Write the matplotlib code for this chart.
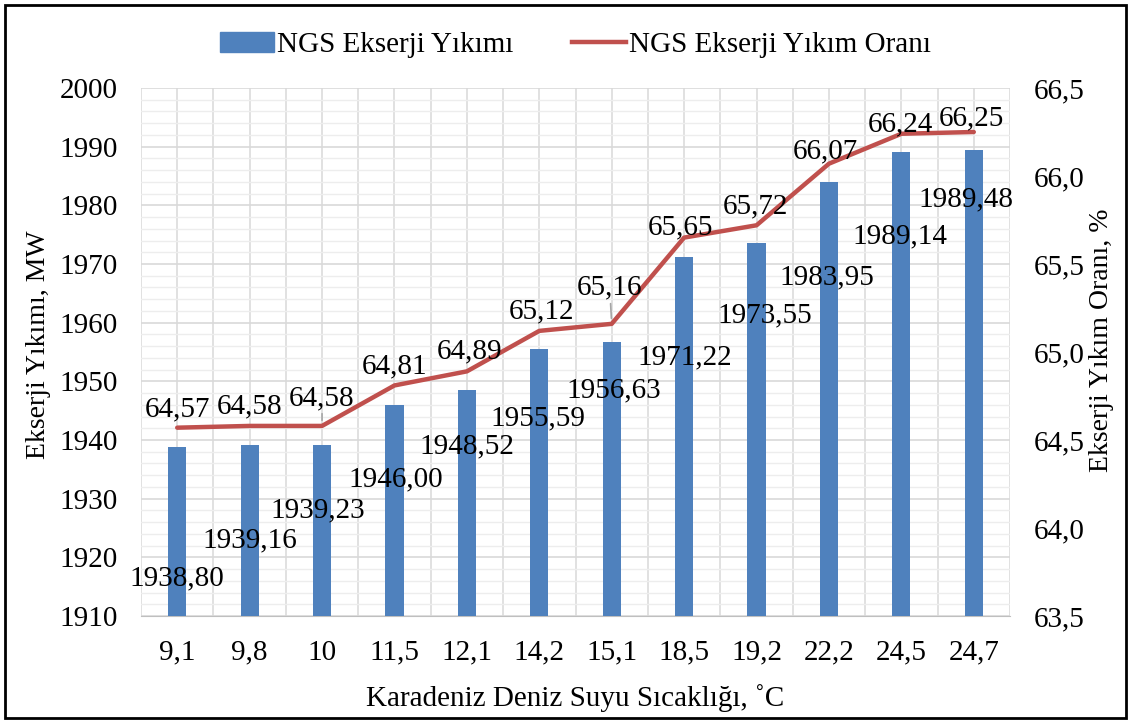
import matplotlib.pyplot as plt
from matplotlib.patches import Patch, Rectangle
from matplotlib.lines import Line2D
from matplotlib.ticker import MultipleLocator, FixedLocator

# Data
temps = ["9,1", "9,8", "10", "11,5", "12,1", "14,2", "15,1", "18,5", "19,2", "22,2", "24,5", "24,7"]
destruction_mw = [1938.80, 1939.16, 1939.23, 1946.00, 1948.52, 1955.59,
                  1956.63, 1971.22, 1973.55, 1983.95, 1989.14, 1989.48]
destruction_rate = [64.57, 64.58, 64.58, 64.81, 64.89, 65.12,
                    65.16, 65.65, 65.72, 66.07, 66.24, 66.25]

# label offsets in pixels (dx, dy) from bar top / line point, to text baseline
bar_label_offsets = [(0, -138), (0, -102), (-4, -73), (1, -82), (0, -63), (-1, -77),
                     (2, -55), (1, -108), (8, -79), (-2, -102), (-1, -92), (-8, -57)]
line_label_offsets = [(0, 11), (0, 13), (0, 21), (0, 12), (3, 13), (2, 13),
                      (-2, 29), (-4, 3), (-1, 12), (-4, 5), (-1, 2), (-2, 7)]
leader_idx = [2, 6]

BLUE = "#4F81BD"
RED = "#C0504D"
FONT = "Liberation Serif"

plt.rcParams["font.family"] = FONT

fig = plt.figure(figsize=(11.3, 7.22), dpi=100)
ax = fig.add_axes([141 / 1130, 106 / 722, 869 / 1130, 528 / 722])
ax2 = ax.twinx()

x = list(range(len(temps)))
ax.bar(x, destruction_mw, width=0.25, color=BLUE, zorder=3)
ax.set_ylim(1910, 2000)
ax.set_xlim(-0.5, len(temps) - 0.5)
ax.yaxis.set_major_locator(MultipleLocator(10))
ax.yaxis.set_minor_locator(MultipleLocator(2))
ax.set_xticks(x)
ax.set_xticklabels(temps)
ax.xaxis.set_minor_locator(FixedLocator([i + 0.5 for i in range(-1, len(temps))]))

ax.grid(which="major", axis="y", color="#D9D9D9", lw=1.2, zorder=0)
ax.grid(which="minor", axis="y", color="#EDEDED", lw=1.0, zorder=0)
ax.grid(which="both", axis="x", color="#DCDCDC", lw=1.2, zorder=0)
ax.set_axisbelow(True)

ax2.plot(x, destruction_rate, color=RED, lw=3.2, solid_capstyle="round", zorder=4)
ax2.set_ylim(63.5, 66.5)
ax2.yaxis.set_major_locator(MultipleLocator(0.5))
ax2.yaxis.set_major_formatter(plt.FuncFormatter(lambda v, p: f"{v:.1f}".replace(".", ",")))

for a in (ax, ax2):
    for s in ("top", "left", "right"):
        a.spines[s].set_visible(False)
    a.tick_params(which="both", length=0, labelsize=21)
ax.spines["bottom"].set_color("#BFBFBF")
ax2.spines["bottom"].set_visible(False)
ax.tick_params(axis="y", pad=17)
ax.tick_params(axis="x", pad=17)
ax2.tick_params(axis="y", pad=17)

# data labels
for i, v in enumerate(destruction_mw):
    dx, dy = bar_label_offsets[i]
    ax.annotate(f"{v:.2f}".replace(".", ","), (i, v), xytext=(dx, dy),
                textcoords="offset pixels", ha="center", va="baseline",
                fontsize=21, zorder=5)

for i, v in enumerate(destruction_rate):
    dx, dy = line_label_offsets[i]
    props = None
    if i in leader_idx:
        props = dict(arrowstyle="-", color="#A6A6A6", lw=1.2, shrinkA=0, shrinkB=4)
    ax2.annotate(f"{v:.2f}".replace(".", ","), (i, v), xytext=(dx, dy),
                 textcoords="offset pixels", ha="center", va="baseline",
                 fontsize=21, zorder=6, arrowprops=props)

# axis titles
fig.text(39 / 1130, 1 - 345 / 722, "Ekserji Yıkımı, MW", rotation=90,
         ha="center", va="center", fontsize=20)
fig.text(1101 / 1130, 1 - 340 / 722, "Ekserji Yıkım Oranı, %", rotation=90,
         ha="center", va="center", fontsize=20)
fig.text(0.5 * (141 + 1010) / 1130, 1 - 698 / 722, "Karadeniz Deniz Suyu Sıcaklığı, ˚C",
         ha="center", va="center", fontsize=21)

handles = [Patch(color=BLUE), Line2D([0], [0], color=RED, lw=3.2)]
fig.legend(handles, ["NGS Ekserji Yıkımı", "NGS Ekserji Yıkım Oranı"],
           loc="center", bbox_to_anchor=(0.5 * (141 + 1010) / 1130, 1 - 45 / 722),
           ncol=2, frameon=False, fontsize=21, handlelength=1.85,
           handletextpad=0.12, columnspacing=2.0)

fig.patches.append(Rectangle((5 / 1130, 4 / 722), 1121 / 1130, 713 / 722,
                             transform=fig.transFigure, fill=False,
                             edgecolor="black", lw=2))

fig.savefig("out.png", dpi=100)
